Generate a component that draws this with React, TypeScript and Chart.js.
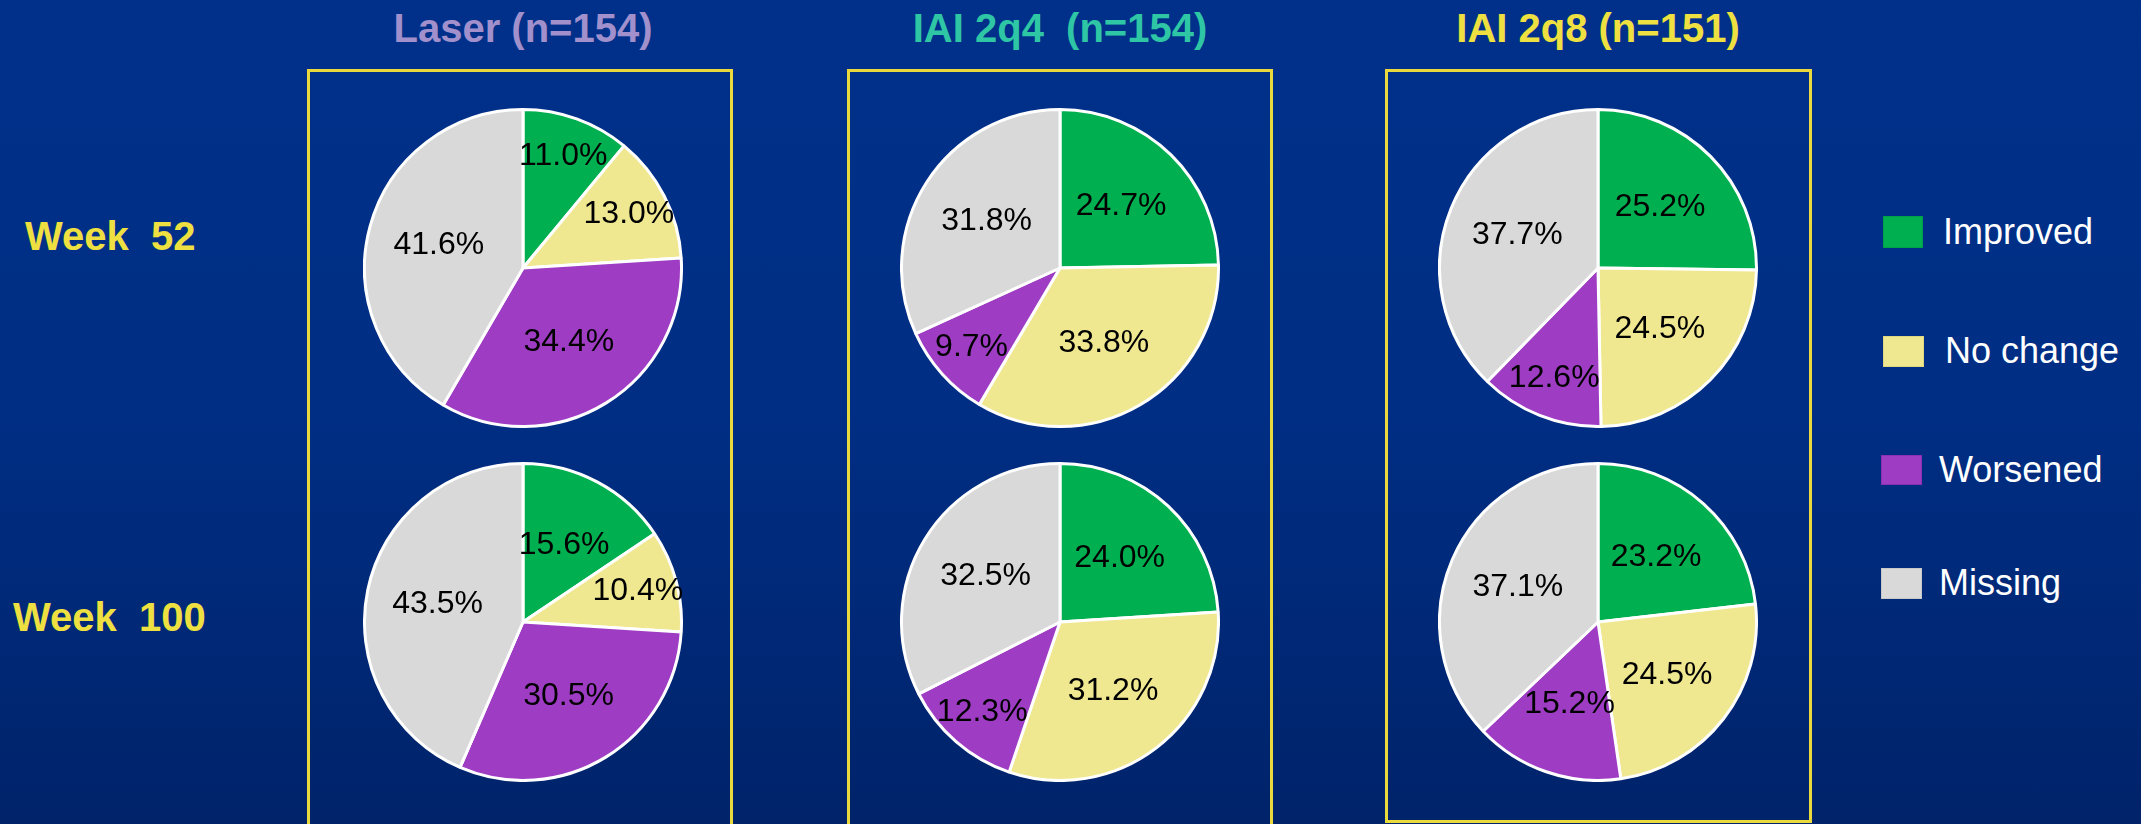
import React, { useEffect, useRef } from "react";
import { Chart, registerables } from "chart.js";

Chart.register(...registerables);

// ---- data ----
const categories = ["Improved", "No change", "Worsened", "Missing"];
const sliceColors = ["#00b050", "#f0e891", "#9e3dc3", "#d9d9d9"];
const groupTitles = ["Laser (n=154)", "IAI 2q4  (n=154)", "IAI 2q8 (n=151)"];
const rowLabels = ["Week  52", "Week  100"];
const laserWeek52 = [11.0, 13.0, 34.4, 41.6];
const laserWeek100 = [15.6, 10.4, 30.5, 43.5];
const iai2q4Week52 = [24.7, 33.8, 9.7, 31.8];
const iai2q4Week100 = [24.0, 31.2, 12.3, 32.5];
const iai2q8Week52 = [25.2, 24.5, 12.6, 37.7];
const iai2q8Week100 = [23.2, 24.5, 15.2, 37.1];

// ---- layout ----
const FONT = '"Liberation Sans", Arial, Helvetica, sans-serif';
const titleColors = ["#a190cb", "#2fc6a6", "#eee040"];
const colCenters = [523, 1060, 1598];
const rowCenters = [268, 622];
const boxes = [
  { left: 307, right: 733, top: 69, bottom: 832 },
  { left: 847, right: 1273, top: 69, bottom: 832 },
  { left: 1385, right: 1812, top: 69, bottom: 823 },
];
const PIE_SIZE = 320;

const pctLabelPlugin = {
  id: "pctLabels",
  afterDatasetsDraw(chart: any) {
    const ctx = chart.ctx;
    const meta = chart.getDatasetMeta(0);
    const data = chart.data.datasets[0].data as number[];
    ctx.save();
    ctx.font = `32px ${FONT}`;
    ctx.fillStyle = "#000";
    ctx.textAlign = "center";
    ctx.textBaseline = "middle";
    meta.data.forEach((arc: any, i: number) => {
      const p = arc.getProps(["x", "y", "startAngle", "endAngle", "outerRadius"], true);
      const mid = (p.startAngle + p.endAngle) / 2;
      const v = data[i];
      const f = v < 14 ? 0.75 : 0.55;
      ctx.fillText(
        v.toFixed(1) + "%",
        p.x + Math.cos(mid) * p.outerRadius * f,
        p.y + Math.sin(mid) * p.outerRadius * f
      );
    });
    ctx.restore();
  },
};

function Pie({ values, cx, cy }: { values: number[]; cx: number; cy: number }) {
  const ref = useRef<HTMLCanvasElement>(null);
  useEffect(() => {
    if (!ref.current) return;
    const chart = new Chart(ref.current, {
      type: "pie",
      data: {
        labels: categories,
        datasets: [
          {
            data: values,
            backgroundColor: sliceColors,
            borderColor: "#ffffff",
            borderWidth: 3,
          },
        ],
      },
      options: {
        responsive: false,
        maintainAspectRatio: false,
        animation: false,
        layout: { padding: 0 },
        plugins: { legend: { display: false }, tooltip: { enabled: false } },
      },
      plugins: [pctLabelPlugin],
    });
    return () => chart.destroy();
  }, [values]);
  return (
    <canvas
      ref={ref}
      width={PIE_SIZE}
      height={PIE_SIZE}
      style={{
        position: "absolute",
        left: cx - PIE_SIZE / 2,
        top: cy - PIE_SIZE / 2,
        width: PIE_SIZE,
        height: PIE_SIZE,
      }}
    />
  );
}

const legendRows = [
  { sq: { left: 1883, top: 216, w: 40, h: 32 }, textLeft: 1943, textTop: 214 },
  { sq: { left: 1883, top: 336, w: 41, h: 31 }, textLeft: 1945, textTop: 333 },
  { sq: { left: 1881, top: 455, w: 41, h: 30 }, textLeft: 1939, textTop: 452 },
  { sq: { left: 1881, top: 568, w: 41, h: 31 }, textLeft: 1939, textTop: 565 },
];
const legendBorders = ["#00a048", "#e0d880", "#8a30b0", "#c8c8c8"];

export default function App() {
  const pieValues = [
    [laserWeek52, iai2q4Week52, iai2q8Week52],
    [laserWeek100, iai2q4Week100, iai2q8Week100],
  ];
  return (
    <div
      style={{
        position: "fixed",
        left: 0,
        top: 0,
        width: 2141,
        height: 824,
        overflow: "hidden",
        background: "linear-gradient(180deg, #00308a 0%, #002e84 50%, #00236a 100%)",
        fontFamily: FONT,
      }}
    >
      {groupTitles.map((t, i) => (
        <div
          key={t}
          style={{
            position: "absolute",
            left: colCenters[i] - 300,
            width: 600,
            top: 8,
            textAlign: "center",
            fontSize: 40,
            lineHeight: "40px",
            fontWeight: "bold",
            color: titleColors[i],
            whiteSpace: "pre",
          }}
        >
          {t}
        </div>
      ))}
      {rowLabels.map((t, i) => (
        <div
          key={t}
          style={{
            position: "absolute",
            left: i === 0 ? 25 : 13,
            top: i === 0 ? 216 : 597,
            fontSize: 40,
            lineHeight: "40px",
            fontWeight: "bold",
            color: "#eee040",
            whiteSpace: "pre",
          }}
        >
          {t}
        </div>
      ))}
      {boxes.map((b, i) => (
        <div
          key={i}
          style={{
            position: "absolute",
            left: b.left,
            top: b.top,
            width: b.right - b.left,
            height: b.bottom - b.top,
            border: "3px solid #e9d93c",
            boxSizing: "border-box",
          }}
        />
      ))}
      {pieValues.map((row, r) =>
        row.map((vals, c) => (
          <Pie key={`${r}-${c}`} values={vals} cx={colCenters[c]} cy={rowCenters[r]} />
        ))
      )}
      {categories.map((cat, i) => (
        <React.Fragment key={cat}>
          <div
            style={{
              position: "absolute",
              left: legendRows[i].sq.left,
              top: legendRows[i].sq.top,
              width: legendRows[i].sq.w,
              height: legendRows[i].sq.h,
              background: sliceColors[i],
              border: `1px solid ${legendBorders[i]}`,
              boxSizing: "border-box",
            }}
          />
          <div
            style={{
              position: "absolute",
              left: legendRows[i].textLeft,
              top: legendRows[i].textTop,
              fontSize: 36,
              lineHeight: "36px",
              color: "#ffffff",
              whiteSpace: "pre",
            }}
          >
            {cat}
          </div>
        </React.Fragment>
      ))}
    </div>
  );
}
